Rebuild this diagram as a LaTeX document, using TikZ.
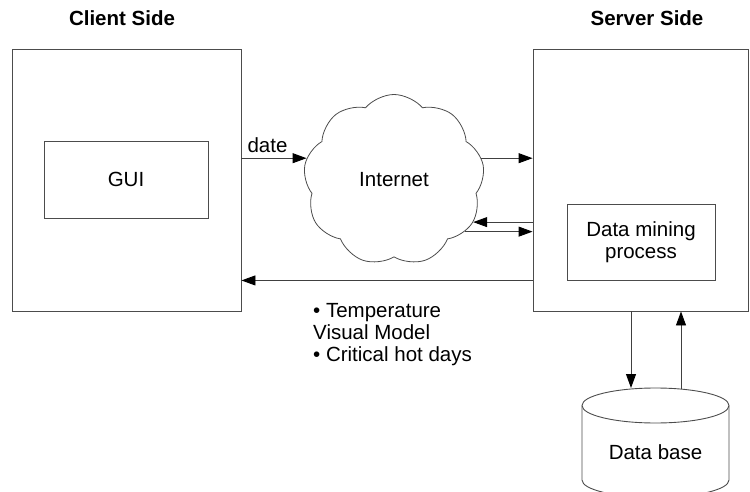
\documentclass[tikz,border=0pt]{standalone}
\usepackage{fontspec}
\setmainfont{Liberation Sans}
\usetikzlibrary{shapes.symbols,arrows.meta}

\tikzset{
  box/.style={draw=black!70, line width=0.9pt, inner sep=0pt},
  arr/.style={draw=black!75, line width=0.9pt, -{Triangle[length=14pt,width=10pt,color=black]}},
  txt/.style={font=\fontsize{20.5}{22}\selectfont}
}

\begin{document}
\begin{tikzpicture}[x=1pt, y=-1pt]
  \useasboundingbox (0,0) rectangle (750,492);
  % titles
  \node[txt, font=\fontsize{20.5}{22}\selectfont\bfseries] (ctitle) at (122,18) {Client Side};
  \node[txt, font=\fontsize{20.5}{22}\selectfont\bfseries] (stitle) at (647,18) {Server Side};
  % client and server boxes
  \node[box, minimum width=229pt, minimum height=262pt] (client) at (126.5,180) {};
  \node[box, minimum width=215pt, minimum height=262pt] (server) at (640.5,180) {};
  \node[box, txt, minimum width=164pt, minimum height=77pt] (gui) at (126,179.5) {GUI};
  \node[box, txt, minimum width=148pt, minimum height=76pt, align=center] (mining) at (641,242) {Data mining\\process};
  % internet
  \node[cloud, draw=black!70, line width=0.8pt, txt, cloud puffs=9, cloud puff arc=100,
        minimum width=181pt, minimum height=171pt] (net) at (394,180) {Internet};
  % data base (drum)
  \draw[black!70, line width=0.9pt] (655.5,405.5) ellipse [x radius=73.5, y radius=17.5];
  \draw[black!70, line width=0.9pt] (582,405.5) -- (582,480)
    arc[start angle=180, end angle=0, x radius=73.5, y radius=17.5] -- (729,405.5);
  \node[txt] (db) at (655.5,452) {Data base};
  % connectors
  \draw[arr] (client.east |- net.166) -- (net.166) node[pos=0.4, above=2pt, txt]{date};
  \draw[arr] (net.14) -- (net.14 -| server.west);
  \draw[arr] (net.-28 -| server.west) -- (net.-28);
  \draw[arr] (net.-36) -- (net.-36 -| server.west);
  \draw[arr] (mining.south -| server.west) -- (mining.south -| client.east);
  \coordinate (dbin) at (631,388);
  \coordinate (dbout) at (681,388.5);
  \draw[arr] (dbin |- server.south) -- (dbin);
  \draw[arr] (dbout) -- (dbout |- server.south);
  \node[txt, anchor=west, align=left, inner sep=0pt] (result) at (313,335)
    {\textbullet{} Temperature\\Visual Model\\\textbullet{} Critical hot days};
\end{tikzpicture}
\end{document}
